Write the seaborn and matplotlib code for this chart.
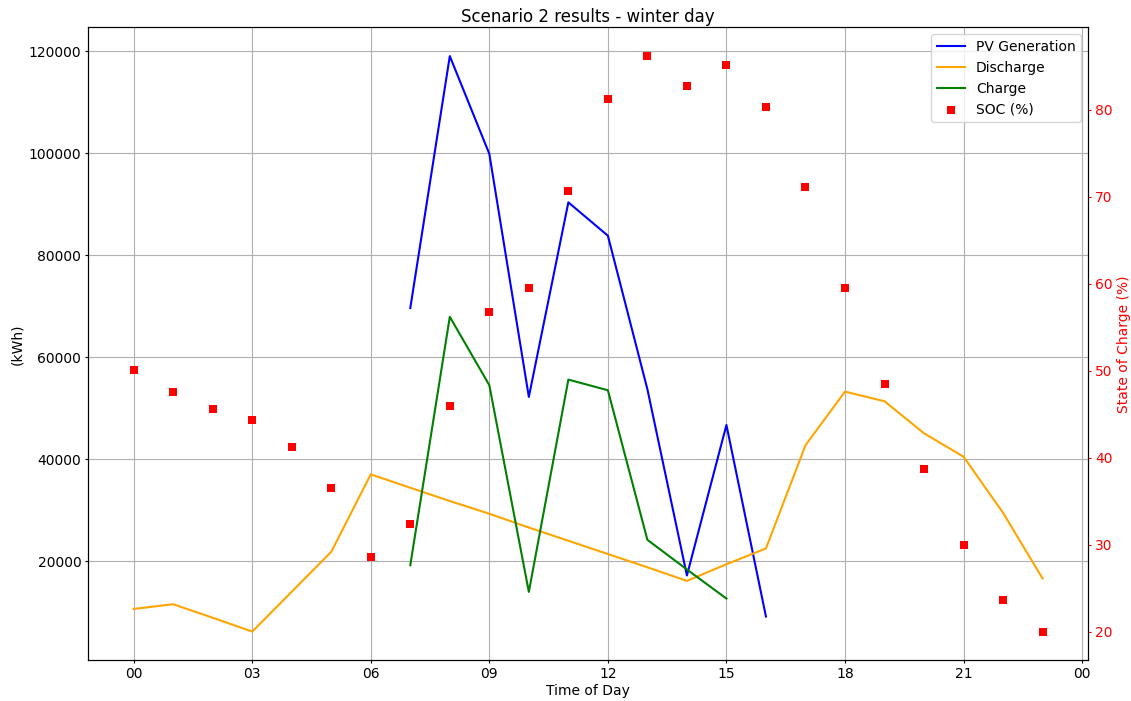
import matplotlib
matplotlib.use("Agg")
import matplotlib.pyplot as plt
import matplotlib.dates as mdates
import numpy as np
import pandas as pd
import seaborn as sns

# Hourly results for one winter day
hours = list(range(24))

pv_hours = [7, 8, 9, 10, 11, 12, 13, 14, 15, 16]
pv_generation = [69650, 119080, 99900, 52220, 90390, 83850, 53730, 17190, 46720, 9130]

charge_hours = [7, 8, 9, 10, 11, 12, 13, 14, 15]
charge = [19210, 67940, 54520, 13970, 55620, 53530, 24190, 18370, 12670]

discharge = [10630, 11550, 8900, 6190, 14000, 21830, 37030, 34400, 31800, 29300,
             26600, 24000, 21400, 18800, 16130, 19400, 22490, 42730, 53260, 51370,
             45090, 40490, 29490, 16600]

soc = [50.05, 47.57, 45.57, 44.35, 41.28, 36.56, 28.59, 32.42, 45.91, 56.8,
       59.48, 70.64, 81.26, 86.17, 82.68, 85.17, 80.34, 71.10, 59.56, 48.49,
       38.71, 29.97, 23.65, 20.0]

day = pd.Timestamp("2023-01-15")
t_all = [day + pd.Timedelta(hours=h) for h in hours]
t_pv = [day + pd.Timedelta(hours=h) for h in pv_hours]
t_ch = [day + pd.Timedelta(hours=h) for h in charge_hours]

fig, ax = plt.subplots(figsize=(11.31, 7.01), dpi=100)
fig.subplots_adjust(left=0.078, right=0.962, top=0.961, bottom=0.058)

sns.lineplot(x=t_pv, y=pv_generation, ax=ax, color="blue", linewidth=1.5, label="PV Generation")
sns.lineplot(x=t_all, y=discharge, ax=ax, color="orange", linewidth=1.5, label="Discharge")
sns.lineplot(x=t_ch, y=charge, ax=ax, color="green", linewidth=1.5, label="Charge")

ax.set_xlabel("Time of Day", labelpad=2)
ax.set_ylabel("(kWh)", labelpad=3)
ax.set_title("Scenario 2 results - winter day", pad=4)
ax.xaxis.set_major_locator(mdates.HourLocator(byhour=range(0, 24, 3)))
ax.xaxis.set_major_formatter(mdates.DateFormatter("%H"))
ax.tick_params(length=2.5, pad=2.5)
ax.grid(True, color="#b0b0b0", linewidth=0.8)

ax2 = ax.twinx()
sns.scatterplot(x=t_all, y=soc, ax=ax2, color="red", marker="s", s=30,
                linewidth=0, label="SOC (%)")
ax2.set_ylabel("State of Charge (%)", color="red", labelpad=3)
ax2.tick_params(axis="y", colors="red", length=2.5, pad=2.5)

h1, l1 = ax.get_legend_handles_labels()
h2, l2 = ax2.get_legend_handles_labels()
if ax.get_legend() is not None:
    ax.get_legend().remove()
if ax2.get_legend() is not None:
    ax2.get_legend().remove()
ax2.legend(h1 + h2, l1 + l2, loc="upper right")

fig.savefig("out.png", dpi=100)
